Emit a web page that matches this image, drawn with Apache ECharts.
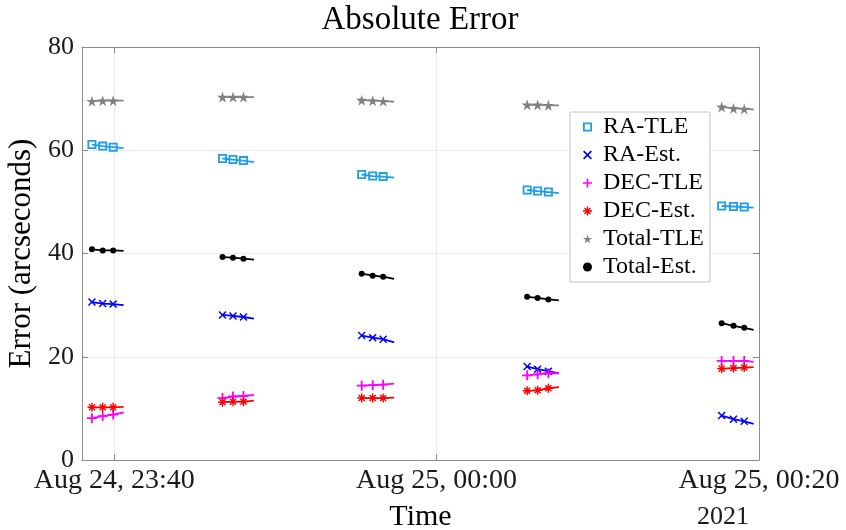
<!DOCTYPE html>
<html>
<head>
<meta charset="utf-8">
<script src="https://cdn.jsdelivr.net/npm/echarts@6/dist/echarts.min.js"></script>
<style>
  html, body { margin: 0; padding: 0; background: #fff; }
  #chart { width: 846px; height: 530px; }
</style>
</head>
<body>
<div id="chart"></div>
<script>
// sample times, 4 per pass (3 with markers, the last one only ends the line)
const times = [
  '2021-08-24T23:38:37', '2021-08-24T23:39:17', '2021-08-24T23:39:56', '2021-08-24T23:40:35',
  '2021-08-24T23:46:43', '2021-08-24T23:47:22', '2021-08-24T23:48:01', '2021-08-24T23:48:40',
  '2021-08-24T23:55:21', '2021-08-24T23:56:02', '2021-08-24T23:56:41', '2021-08-24T23:57:22',
  '2021-08-25T00:05:37', '2021-08-25T00:06:16', '2021-08-25T00:06:56', '2021-08-25T00:07:35',
  '2021-08-25T00:17:41', '2021-08-25T00:18:25', '2021-08-25T00:19:05', '2021-08-25T00:19:40'
];

const raTle    = [61.1, 60.8, 60.6, 60.4,  58.4, 58.2, 58.0, 57.7,  55.3, 55.0, 54.9, 54.7,  52.3, 52.1, 51.9, 51.7,  49.2, 49.1, 49.0, 48.9];
const raEst    = [30.6, 30.3, 30.2, 30.0,  28.1, 27.9, 27.7, 27.4,  24.1, 23.7, 23.4, 22.8,  18.1, 17.6, 17.2, 16.8,   8.6,  7.9,  7.5,  7.0];
const decTle   = [ 8.1,  8.5,  8.8,  9.2,  12.0, 12.3, 12.4, 12.6,  14.4, 14.5, 14.6, 14.8,  16.4, 16.6, 16.8, 16.8,  19.2, 19.2, 19.2, 19.0];
const decEst   = [10.2, 10.2, 10.2, 10.3,  11.2, 11.3, 11.3, 11.5,  12.0, 12.0, 12.0, 12.1,  13.4, 13.5, 13.9, 14.1,  17.7, 17.8, 17.9, 18.0];
const totalTle = [69.5, 69.6, 69.6, 69.6,  70.3, 70.3, 70.3, 70.3,  69.7, 69.6, 69.5, 69.4,  68.8, 68.8, 68.7, 68.7,  68.4, 68.1, 68.0, 67.9];
const totalEst = [40.8, 40.6, 40.6, 40.5,  39.3, 39.2, 39.0, 38.8,  36.1, 35.7, 35.5, 35.1,  31.6, 31.4, 31.1, 30.9,  26.5, 26.0, 25.6, 25.2];

const xRange = ['2021-08-24T23:38:00', '2021-08-25T00:20:00'];
const tickTimes = ['2021-08-24T23:40:00', '2021-08-25T00:00:00', '2021-08-25T00:20:00'];
const tickLabels = ['Aug 24, 23:40', 'Aug 25, 00:00', 'Aug 25, 00:20'];
const yTicks = [0, 20, 40, 60, 80];

const FONT = 'Liberation Serif';
const toMs = s => new Date(s).getTime();
const tickMs = tickTimes.map(toMs);

// marker shapes
const SYM_SQ = 'path://M0,0H10V10H0Z M2,2V8H8V2Z';
const SYM_X = 'path://M0,1.3L1.3,0L5,3.7L8.7,0L10,1.3L6.3,5L10,8.7L8.7,10L5,6.3L1.3,10L0,8.7L3.7,5Z';
const SYM_PLUS = 'path://M4.1,0H5.9V4.1H10V5.9H5.9V10H4.1V5.9H0V4.1H4.1Z';
const SYM_AST = 'path://M4.2,0H5.8V3.1L7.8,1.1L8.9,2.2L6.9,4.2H10V5.8H6.9L8.9,7.8L7.8,8.9L5.8,6.9V10H4.2V6.9L2.2,8.9L1.1,7.8L3.1,5.8H0V4.2H3.1L1.1,2.2L2.2,1.1L4.2,3.1Z';
const SYM_STAR = 'path://M5,0L6.18,3.62L10,3.62L6.91,5.86L8.09,9.51L5,7.26L1.91,9.51L3.09,5.86L0,3.62L3.82,3.62Z';

function buildData(values) {
  let out = [];
  for (let i = 0; i < values.length; i++) {
    let item = { value: [toMs(times[i]), values[i]] };
    if (i % 4 === 3) {
      item.symbol = 'none';
    }
    out.push(item);
    if (i % 4 === 3 && i < values.length - 1) {
      out.push({ value: [toMs(times[i]) + 1000, '-'] });
    }
  }
  return out;
}

function makeSeries(name, values, color, symbol, size) {
  return {
    name: name,
    type: 'line',
    data: buildData(values),
    symbol: symbol,
    symbolSize: size,
    connectNulls: false,
    animation: false,
    lineStyle: { color: color, width: 1.8 },
    itemStyle: { color: color, borderColor: color, borderWidth: 0 },
    emphasis: { disabled: true }
  };
}

const seriesList = [
  makeSeries('RA-TLE', raTle, '#1f9ded', SYM_SQ, 9),
  makeSeries('RA-Est.', raEst, '#0000ff', SYM_X, 8),
  makeSeries('DEC-TLE', decTle, '#ff00ff', SYM_PLUS, 10),
  makeSeries('DEC-Est.', decEst, '#ff0000', SYM_AST, 9),
  makeSeries('Total-TLE', totalTle, '#808080', SYM_STAR, 11),
  makeSeries('Total-Est.', totalEst, '#000000', 'circle', 6)
];

const chart = echarts.init(document.getElementById('chart'), null, { renderer: 'canvas' });

const axisColor = '#8c8c8c';
const gridColor = '#ebebeb';

chart.setOption({
  backgroundColor: '#fff',
  animation: false,
  title: {
    text: 'Absolute Error',
    left: 420,
    top: 4,
    padding: 0,
    textAlign: 'center',
    textStyle: { fontFamily: FONT, fontSize: 33, fontWeight: 'normal', color: '#000' }
  },
  grid: { left: 82, right: 87, top: 47, bottom: 70, containLabel: false, outerBoundsMode: 'none' },
  legend: {
    orient: 'vertical',
    left: 570,
    top: 112,
    padding: [1, 6, 1, 13],
    itemGap: 0,
    itemWidth: 9,
    itemHeight: 9,
    backgroundColor: '#fff',
    borderColor: '#c4c4c4',
    borderWidth: 1,
    borderRadius: 0,
    selectedMode: false,
    textStyle: { fontFamily: FONT, fontSize: 24, color: '#000', lineHeight: 28, padding: [0, 0, 0, 6] },
    data: [
      { name: 'RA-TLE', icon: SYM_SQ },
      { name: 'RA-Est.', icon: SYM_X },
      { name: 'DEC-TLE', icon: SYM_PLUS },
      { name: 'DEC-Est.', icon: SYM_AST },
      { name: 'Total-TLE', icon: SYM_STAR },
      { name: 'Total-Est.', icon: 'circle' }
    ]
  },
  xAxis: [
    {
      type: 'value',
      min: toMs(xRange[0]),
      max: toMs(xRange[1]),
      name: 'Time',
      nameLocation: 'middle',
      nameGap: 42,
      nameTextStyle: { fontFamily: FONT, fontSize: 30, color: '#000' },
      axisLine: { show: true, onZero: false, lineStyle: { color: axisColor, width: 1 } },
      axisTick: { show: true, inside: true, length: 6, customValues: tickMs, lineStyle: { color: axisColor } },
      axisLabel: {
        customValues: tickMs,
        margin: 7,
        hideOverlap: false,
        fontFamily: FONT,
        fontSize: 28,
        color: '#1a1a1a',
        formatter: function (v) {
          let idx = tickMs.indexOf(v);
          return idx >= 0 ? tickLabels[idx] : '';
        }
      },
      splitLine: { show: true, lineStyle: { color: gridColor, width: 1 } }
    },
    {
      type: 'value',
      position: 'top',
      min: toMs(xRange[0]),
      max: toMs(xRange[1]),
      axisLine: { show: true, onZero: false, lineStyle: { color: axisColor, width: 1 } },
      axisTick: { show: true, inside: true, length: 6, customValues: tickMs, lineStyle: { color: axisColor } },
      axisLabel: { show: false, customValues: tickMs },
      splitLine: { show: false }
    }
  ],
  yAxis: [
    {
      type: 'value',
      min: yTicks[0],
      max: yTicks[yTicks.length - 1],
      interval: 20,
      name: 'Error (arcseconds)',
      nameLocation: 'middle',
      nameGap: 36,
      nameRotate: 90,
      nameTextStyle: { fontFamily: FONT, fontSize: 31, color: '#000' },
      axisLine: { show: true, onZero: false, lineStyle: { color: axisColor, width: 1 } },
      axisTick: { show: true, inside: true, length: 6, lineStyle: { color: axisColor } },
      axisLabel: { margin: 8, fontFamily: FONT, fontSize: 26, color: '#1a1a1a' },
      splitLine: { show: true, lineStyle: { color: gridColor, width: 1 } }
    },
    {
      type: 'value',
      position: 'right',
      min: yTicks[0],
      max: yTicks[yTicks.length - 1],
      interval: 20,
      axisLine: { show: true, onZero: false, lineStyle: { color: axisColor, width: 1 } },
      axisTick: { show: true, inside: true, length: 6, lineStyle: { color: axisColor } },
      axisLabel: { show: false },
      splitLine: { show: false }
    }
  ],
  graphic: [
    {
      type: 'text',
      left: 697,
      top: 504,
      style: { text: '2021', fontFamily: FONT, fontSize: 26, fill: '#1a1a1a' }
    }
  ],
  series: seriesList
});
</script>
</body>
</html>
